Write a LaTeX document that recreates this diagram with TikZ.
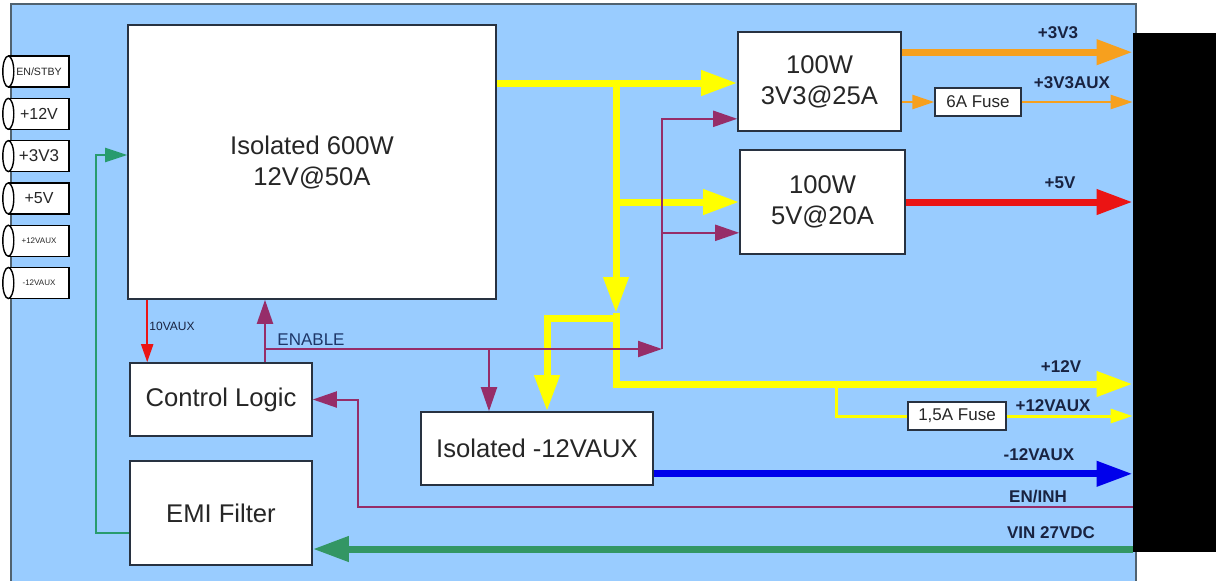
\documentclass[tikz,border=0pt]{standalone}
\usepackage{fontspec}
\setmainfont{Liberation Sans}
\usetikzlibrary{arrows.meta,calc}

\definecolor{panelblue}{RGB}{153,204,255}
\definecolor{panelline}{RGB}{80,98,112}
\definecolor{boxline}{RGB}{40,50,65}
\definecolor{busyellow}{RGB}{255,255,0}
\definecolor{sigpurple}{RGB}{150,45,105}
\definecolor{outorange}{RGB}{247,160,30}
\definecolor{outred}{RGB}{235,20,20}
\definecolor{negblue}{RGB}{0,0,235}
\definecolor{vingreen}{RGB}{51,150,100}
\definecolor{feedgreen}{RGB}{40,155,110}
\definecolor{signavy}{RGB}{25,35,65}
\definecolor{labelblue}{RGB}{30,55,105}

\begin{document}
\begin{tikzpicture}[
    x=0.5pt,
    y=-0.5pt,
    block/.style={
        draw=boxline,
        fill=white,
        line width=0.8pt,
        inner sep=0pt,
        align=center,
        text=black!85,
        font=\fontsize{12.8}{15.5}\selectfont
    },
    fusebox/.style={
        draw=boxline,
        fill=white,
        line width=0.7pt,
        inner sep=0pt,
        minimum height=14pt,
        text=black!85,
        font=\fontsize{8.5}{10}\selectfont
    },
    plug/.style={
        draw=black,
        fill=white,
        line width=0.7pt,
        inner sep=0pt,
        minimum width=30pt,
        minimum height=15.5pt,
        text=black!85
    },
    signame/.style={
        text=signavy,
        font=\bfseries\fontsize{8.5}{10}\selectfont
    },
    bus/.style={line width=3.5pt},
    wire/.style={line width=1pt},
    bighead/.style={-{Triangle[length=18pt,width=12pt]}},
    midhead/.style={-{Triangle[length=12pt,width=8pt]}},
    smallhead/.style={-{Triangle[length=11pt,width=7pt]}},
    tinyhead/.style={-{Triangle[length=9pt,width=6pt]}}
]

\useasboundingbox (0,0) rectangle (1216,580);

% -------------------------------------------------
% Panel
% -------------------------------------------------

\path[fill=panelblue] (11,4) rectangle (1136,584);
\draw[panelline,line width=1.3pt] (11,584) -- (11,4) -- (1136,4) -- (1136,584);

% -------------------------------------------------
% Blocks
% -------------------------------------------------

\node[block, minimum width=184pt, minimum height=137pt] (big) at (312,162)
    {Isolated 600W\\12V@50A};
\node[block, minimum width=81.5pt, minimum height=49.5pt] (v33) at (819.5,81.5)
    {100W\\3V3@25A};
\node[block, minimum width=82.5pt, minimum height=52pt] (v5) at (822.5,202)
    {100W\\5V@20A};
\node[block, minimum width=91pt, minimum height=36.5pt] (ctrl) at (221,399.5)
    {Control Logic};
\node[block, minimum width=91pt, minimum height=52pt] (emi) at (221,513)
    {EMI Filter};
\node[block, minimum width=116pt, minimum height=36.5pt] (n12) at (537,448.5)
    {Isolated -12VAUX};

\node[fusebox, minimum width=43pt] (fuse6) at (978,102) {6A Fuse};
\node[fusebox, minimum width=49pt] (fuse15) at (957,416) {1,5A Fuse};

% output connector
\node[fill=black, inner sep=0pt, minimum width=41.5pt, minimum height=259.5pt]
    (conn) at (1174.5,292.5) {};

% -------------------------------------------------
% Input plugs on the left
% -------------------------------------------------

\foreach \lbl/\fs [count=\i from 0] in
    {{EN/STBY}/5.3, {+12V}/8, {+3V3}/8.5, {+5V}/8, {+12VAUX}/4, {-12VAUX}/4}
{
    \pgfmathsetmacro\cy{71.5+42.3*\i}
    \node[plug, font=\fontsize{\fs}{\fs}\selectfont] (plug\i) at (39,\cy) {\lbl};
    \draw[black, fill=white, line width=0.7pt]
        (plug\i.west) ellipse [x radius=2.75pt, y radius=7.75pt];
}

% -------------------------------------------------
% Junctions
% -------------------------------------------------

\coordinate (ysplit) at (616,83);
\coordinate (yarrow) at (616,313);
\coordinate (ytee) at (616,318);
\coordinate (ydown) at (547,318);
\coordinate (yturn) at (616,384);
\coordinate (yaux) at (836,384);
\coordinate (enup) at (265,349);
\coordinate (enfork) at (489,349);
\coordinate (enpivot) at (662,349);
\coordinate (inhturn) at (358,507);
\coordinate (vin) at (1133,549);
\coordinate (emiturn) at (96,533);
\coordinate (o33) at ($(v33.north east)+(0,21)$);
\coordinate (v33en) at ($(v33.south west)+(0,-13)$);
\coordinate (v5en) at ($(v5.south west)+(0,-22)$);
\coordinate (n12out) at ($(n12.south east)+(0,-12)$);

% -------------------------------------------------
% 12 V bus (yellow)
% -------------------------------------------------

\draw[bus, busyellow, bighead] (big.east |- ysplit) -- (v33.west |- ysplit);
\draw[bus, busyellow, bighead] (ysplit |- v5.west) -- (v5.west);
\draw[bus, busyellow, bighead] (ysplit) -- (yarrow);
\draw[bus, busyellow, bighead] (yarrow) -- (yturn) -- (yturn -| conn.west);
\draw[bus, busyellow, bighead] (ytee) -| (ydown |- n12.north);

\draw[line width=1.5pt, busyellow] (yaux) |- (fuse15.west);
\draw[line width=1.5pt, busyellow, smallhead] (fuse15.east) -- (fuse15.east -| conn.west);

% -------------------------------------------------
% Outputs
% -------------------------------------------------

\draw[bus, outorange, bighead] (o33) -- (o33 -| conn.west);
\draw[line width=1.2pt, outorange, smallhead] (v33.east |- fuse6.west) -- (fuse6.west);
\draw[line width=1.2pt, outorange, smallhead] (fuse6.east) -- (fuse6.east -| conn.west);

\draw[bus, outred, bighead] (v5.east) -- (v5.east -| conn.west);
\draw[bus, negblue, bighead] (n12out) -- (n12out -| conn.west);

% -------------------------------------------------
% Enable signals (purple)
% -------------------------------------------------

\draw[wire, sigpurple, midhead] (enup |- ctrl.north) -- (enup |- big.south);
\draw[wire, sigpurple, midhead] (enup) -- (enpivot);
\draw[wire, sigpurple, midhead] (enpivot) |- (v33en);
\draw[wire, sigpurple, midhead] (enpivot |- v5en) -- (v5en);
\draw[wire, sigpurple, midhead] (enfork) -- (enfork |- n12.north);
\draw[wire, sigpurple, midhead] (inhturn -| conn.west) -- (inhturn) |- (ctrl.east);

% -------------------------------------------------
% Auxiliary supply and input
% -------------------------------------------------

\draw[wire, outred, tinyhead]
    ($(big.south west)+(20,0)$) -- ($(ctrl.north west)+(18,0)$);

\draw[bus, vingreen, bighead] (vin) -- (vin -| emi.east);
\draw[wire, feedgreen, smallhead]
    (emiturn -| emi.west) -- (emiturn) |- ($(big.west)+(0,-7)$);

% -------------------------------------------------
% Labels
% -------------------------------------------------

\node[signame] at (1058,33) {+3V3};
\node[signame] at (1072,83) {+3V3AUX};
\node[signame] at (1060,183) {+5V};
\node[signame] at (1061,367) {+12V};
\node[signame] at (1053,406) {+12VAUX};
\node[signame] at (1039,455) {-12VAUX};
\node[signame] at (1038,496) {EN/INH};
\node[signame] at (1051,533) {VIN 27VDC};

\node[labelblue, font=\fontsize{8.5}{10}\selectfont] at (311,340) {ENABLE};
\node[signavy, font=\fontsize{6}{7}\selectfont] at (172,326) {10VAUX};

\end{tikzpicture}
\end{document}
